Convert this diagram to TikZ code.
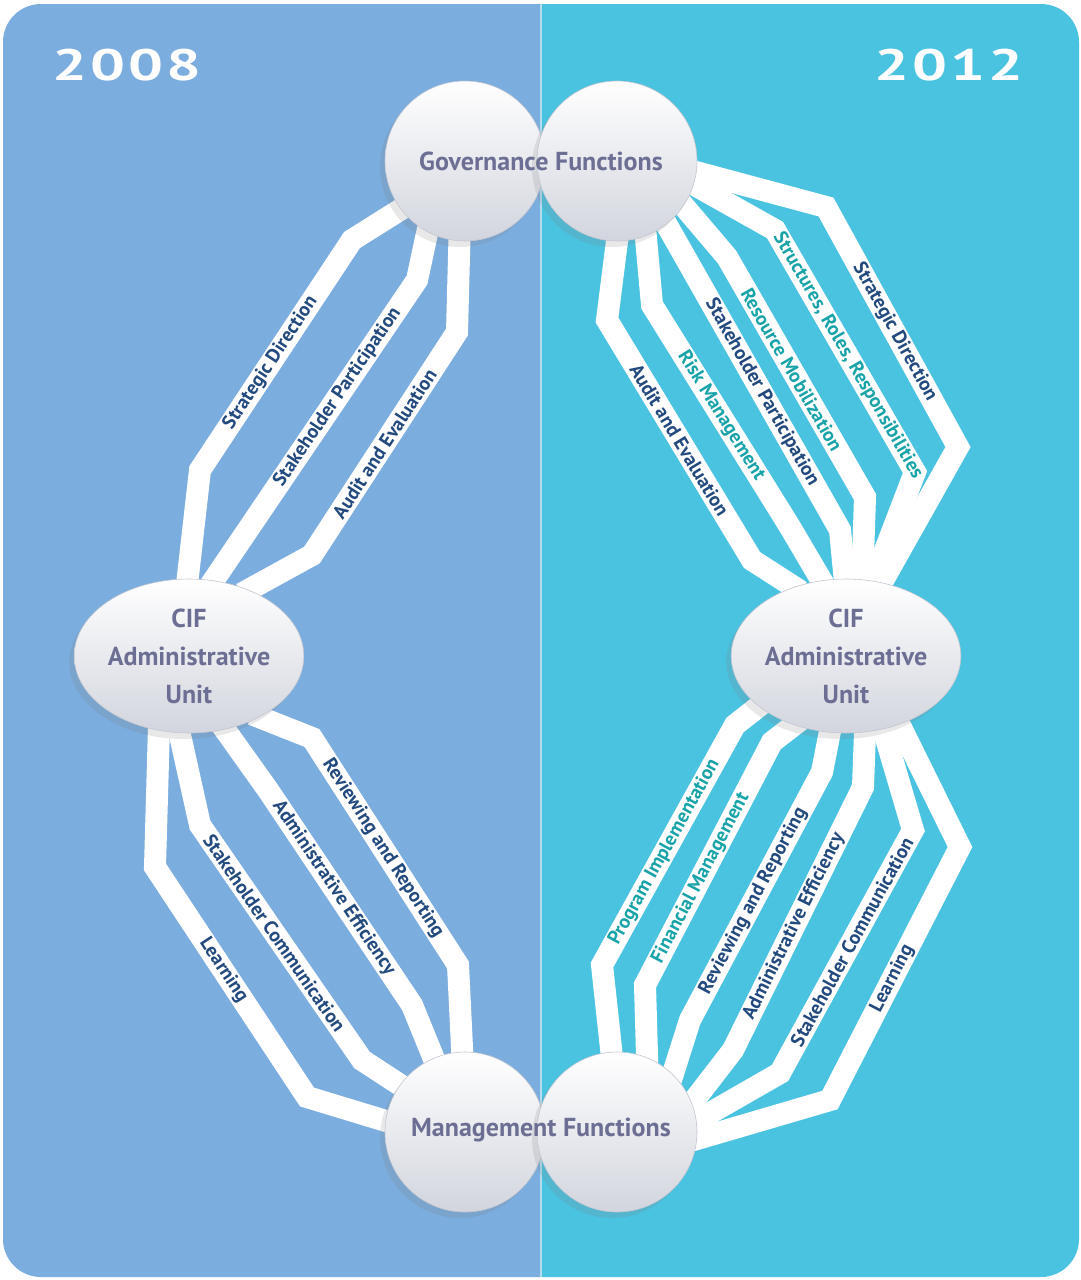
\documentclass[tikz,border=0pt]{standalone}
\usepackage{fontspec}
\setmainfont{PT Sans}
\newfontfamily\yearfont{PT Sans}[FakeStretch=1.4,LetterSpace=7]
\usetikzlibrary{shapes.geometric,shadows}
\definecolor{paneLeft}{HTML}{7BADDE}
\definecolor{paneRight}{HTML}{4AC3E0}
\definecolor{paneRule}{HTML}{B5DDF0}
\definecolor{lobeGray}{HTML}{D2D5DE}
\definecolor{lobeEdge}{HTML}{C3C6D0}
\definecolor{unitText}{HTML}{6C6F93}
\definecolor{tagNavy}{HTML}{234A7E}
\definecolor{tagTeal}{HTML}{17A3A8}
\pgfdeclarelayer{panes}
\pgfdeclarelayer{links}
\pgfsetlayers{panes,links,main}

\begin{document}
\begin{tikzpicture}[
    x=1pt, y=-1pt,
    lobe/.style={circle, minimum size=160pt, inner sep=0pt, top color=white, bottom color=lobeGray, draw=lobeEdge, line width=0.6pt, drop shadow={shadow xshift=-5pt, shadow yshift=-6pt, opacity=0.18}},
    unit/.style={ellipse, minimum width=214pt, minimum height=154pt, inner sep=0pt, top color=white, bottom color=lobeGray, draw=lobeEdge, line width=0.6pt, drop shadow={shadow xshift=-5pt, shadow yshift=-6pt, opacity=0.18}, align=center, text=unitText, font=\bfseries\fontsize{26}{38}\selectfont},
    caption/.style={inner sep=0pt, text=unitText, font=\bfseries\fontsize{26}{30}\selectfont},
    year/.style={inner sep=0pt, text=white, font=\yearfont\bfseries\fontsize{44}{48}\selectfont},
    link/.style={draw=white, line width=22pt, line join=miter, shorten <=-8pt, shorten >=-8pt},
    tag/.style={sloped, inner sep=0pt, text=tagNavy, font=\bfseries\fontsize{19.5}{22}\selectfont},
    newtag/.style={tag, text=tagTeal}
  ]
  \useasboundingbox (0,0) rectangle (1081,1280);

  \begin{pgfonlayer}{panes}
    \fill[white] (0,0) rectangle (1081,1280);
    \begin{scope}
      \clip[rounded corners=38pt] (3,4) rectangle (1079,1277);
      \fill[paneLeft] (0,0) rectangle (541,1280);
      \fill[paneRight] (541,0) rectangle (1081,1280);
    \end{scope}
    \draw[paneRule, line width=1.5pt] (541,4) -- (541,1277);
  \end{pgfonlayer}

  \node[year, anchor=west] (y08) at (52,65) {2008};
  \node[year, anchor=east] (y12) at (1024,65) {2012};

  \node[lobe] (gl) at (465,161) {};
  \node[lobe] (gr) at (617,161) {};
  \node[caption] (gov) at (541,161) {Governance Functions};

  \node[unit] (cl) at (189,656) {CIF\\Administrative\\Unit};
  \node[unit] (cr) at (846,656) {CIF\\Administrative\\Unit};

  \node[lobe] (ml) at (465,1132) {};
  \node[lobe] (mr) at (617,1132) {};
  \node[caption] (mgt) at (541,1130) {Management Functions};

  \begin{pgfonlayer}{links}
    % 2008
    \draw[link] (gl.217) -- (352,240) -- node[tag, pos=.535] {Strategic Direction} (200,470) -- (cl.91);
    \draw[link] (gl.242) -- (417,280) -- node[tag, pos=.39] {Stakeholder Participation} (cl.72);
    \draw[link] (gl.266) -- (457,332) -- node[tag, pos=.5] {Audit and Evaluation} (312,555) -- (cl.48);
    \draw[link] (cl.319) -- (312,738) -- node[tag, pos=.485] {Reviewing and Reporting} (458,965) -- (ml.92);
    \draw[link] (cl.296) -- (268,790) -- node[tag, pos=.456] {Administrative Efficiency} (412,1005) -- (ml.113);
    \draw[link] (cl.263) -- (200,825) -- node[tag, pos=.46] {Stakeholder Communication} (362,1060) -- (ml.144);
    \draw[link] (cl.248) -- (155,867) -- node[tag, pos=.45] {Learning} (307,1097) -- (ml.172);
    % 2012
    \draw[link] (gr.270) -- (607,320) -- node[tag, pos=.5] {Audit and Evaluation} (752,560) -- (cr.127);
    \draw[link] (gr.291) -- (652,305) -- node[newtag, pos=.5] {Risk Management} (790,527) -- (cr.108);
    \draw[link] (gr.308) -- node[tag, pos=.55] {Stakeholder Participation} (840,530) -- (cr.91);
    \draw[link] (gr.326) -- (727,257) -- node[newtag, pos=.47] {Resource Mobilization} (865,497) -- (cr.78);
    \draw[link] (gr.343) -- (775,230) -- node[newtag, pos=.52] {Structures, Roles, Responsibilities} (915,472) -- (cr.70);
    \draw[link] (gr.352) -- (826,207) -- node[tag, pos=.52] {Strategic Direction} (958,447) -- (cr.64);
    \draw[link] (cr.210) -- (735,725) -- node[newtag, pos=.53] {Program Implementation} (602,965) -- (mr.94);
    \draw[link] (cr.233) -- (772,742) -- node[newtag, pos=.56] {Financial Management} (645,985) -- (mr.68);
    \draw[link] (cr.258) -- (822,772) -- node[tag, pos=.52] {Reviewing and Reporting} (690,1020) -- (mr.46);
    \draw[link] (cr.284) -- (863,787) -- node[tag, pos=.53] {Administrative Efficiency} (733,1050) -- (mr.21);
    \draw[link] (cr.297) -- (913,830) -- node[tag, pos=.46] {Stakeholder Communication} (780,1073) -- (mr.8);
    \draw[link] (cr.308) -- (960,847) -- node[tag, pos=.52] {Learning} (830,1100) -- (mr.355);
  \end{pgfonlayer}
\end{tikzpicture}
\end{document}
